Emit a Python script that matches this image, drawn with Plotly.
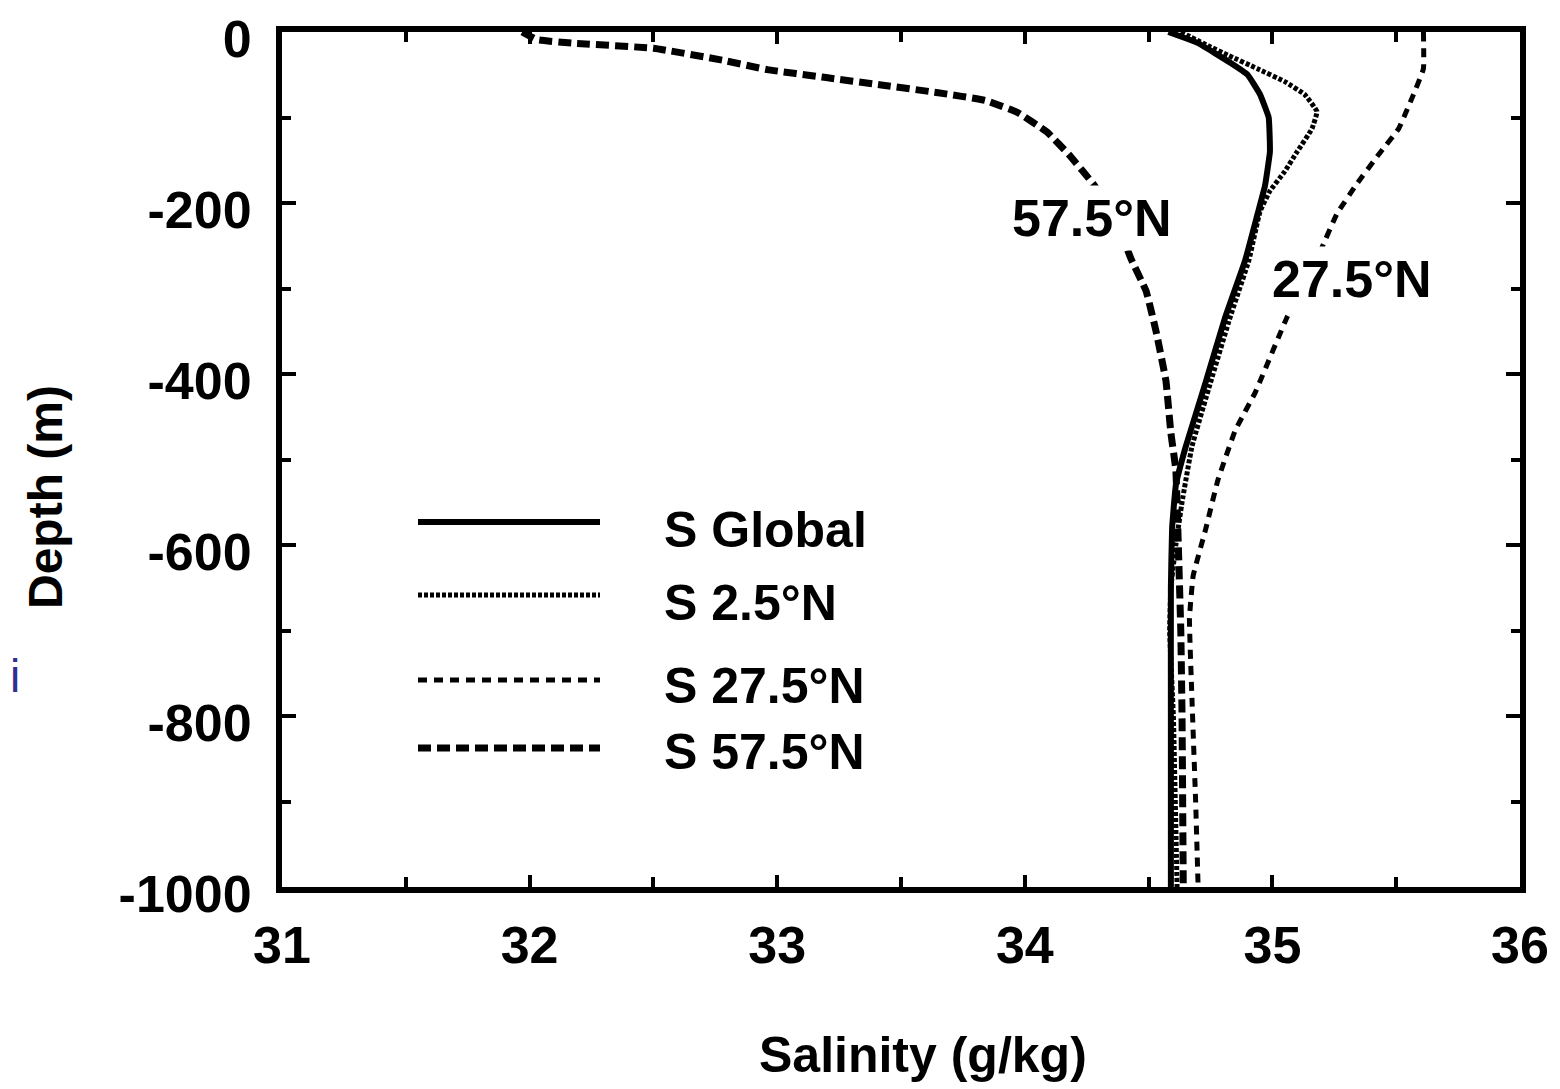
import plotly.graph_objects as go

# ---- data (depth in m, salinity in g/kg) ----
depth_global = [0, -13, -36, -50, -73, -100, -140, -180, -213, -267, -333, -410, -485, -530, -580, -650, -800, -1000]
sal_global = [34.58, 34.70, 34.83, 34.90, 34.95, 34.985, 34.99, 34.97, 34.94, 34.89, 34.81, 34.73, 34.65, 34.61, 34.595, 34.59, 34.59, 34.59]

depth_25 = [0, -16, -27, -43, -58, -73, -93, -113, -140, -163, -186, -210, -267, -333, -410, -485, -550, -600, -650, -700, -800, -1000]
sal_25 = [34.63, 34.74, 34.82, 34.94, 35.05, 35.13, 35.18, 35.16, 35.10, 35.05, 34.99, 34.95, 34.905, 34.83, 34.75, 34.675, 34.635, 34.61, 34.59, 34.585, 34.60, 34.615]

depth_275 = [0, -43, -73, -113, -143, -178, -213, -252, -333, -422, -466, -524, -582, -636, -686, -779, -900, -1000]
sal_275 = [35.61, 35.61, 35.57, 35.51, 35.43, 35.34, 35.26, 35.20, 35.06, 34.93, 34.85, 34.78, 34.73, 34.68, 34.665, 34.675, 34.69, 34.70]

depth_575 = [0, -9, -13, -19, -33, -44, -53, -62, -71, -80, -94, -117, -144, -179, -215, -266, -303, -350, -408, -469, -512, -600, -700, -800, -1000]
sal_575 = [31.97, 32.03, 32.17, 32.50, 32.78, 32.96, 33.19, 33.42, 33.65, 33.84, 33.97, 34.09, 34.18, 34.28, 34.36, 34.43, 34.49, 34.53, 34.57, 34.59, 34.61, 34.62, 34.63, 34.635, 34.64]

series_names = ["S Global", "S 2.5°N", "S 27.5°N", "S 57.5°N"]
x_ticks = [31, 32, 33, 34, 35, 36]
y_ticks = [0, -200, -400, -600, -800, -1000]

# ---- styles ----
styles = [
    dict(width=6, dash="solid"),
    dict(width=5, dash="4px,2px"),
    dict(width=5, dash="9px,7px"),
    dict(width=7, dash="13px,6px"),
]
data_sets = [(sal_global, depth_global), (sal_25, depth_25), (sal_275, depth_275), (sal_575, depth_575)]

FONT = "Liberation Sans, Arial, sans-serif"

fig = go.Figure()
for (xs, ys), name, st in zip(data_sets, series_names, styles):
    fig.add_trace(go.Scatter(x=xs, y=ys, mode="lines", name=name,
                             line=dict(color="black", width=st["width"], dash=st["dash"], shape="spline", smoothing=0.3),
                             showlegend=False))

# curve labels (white box hides the line beneath, as in the original)
fig.add_annotation(x=34.27, y=-218, xref="x", yref="y", text="<b>57.5°N</b>", showarrow=False,
                   font=dict(family=FONT, size=52, color="black"), bgcolor="white", borderpad=3)
fig.add_annotation(x=35.32, y=-289, xref="x", yref="y", text="<b>27.5°N</b>", showarrow=False,
                   font=dict(family=FONT, size=52, color="black"), bgcolor="white", borderpad=3)

# page body has an 8px margin; figure sized to reach the window edges
OFF = 8
W, H = 1552, 1081
L, R, T, B = 274, 40, 24, 202
pw, ph = W - L - R, H - T - B
def px(x):  # screen pixel -> paper x
    return (x - OFF - L) / pw
def py(y):  # screen pixel -> paper y
    return (OFF + H - B - y) / ph

leg_line_y = [522, 595, 680, 748]
leg_text_y = [530, 603, 686, 752]
for name, st, ly, ty in zip(series_names, styles, leg_line_y, leg_text_y):
    fig.add_shape(type="line", xref="paper", yref="paper", x0=px(418), x1=px(600), y0=py(ly), y1=py(ly),
                  line=dict(color="black", width=st["width"], dash=st["dash"]))
    fig.add_annotation(xref="paper", yref="paper", x=px(662), y=py(ty), xanchor="left", yanchor="middle",
                       text="<b>" + name + "</b>", showarrow=False,
                       font=dict(family=FONT, size=50, color="black"))

# axis titles
fig.add_annotation(xref="paper", yref="paper", x=px(923), y=py(1055), text="<b>Salinity (g/kg)</b>",
                   showarrow=False, xanchor="center", yanchor="middle",
                   font=dict(family=FONT, size=50, color="black"))
fig.add_annotation(xref="paper", yref="paper", x=px(45), y=py(497), text="<b>Depth (m)</b>", textangle=-90,
                   showarrow=False, xanchor="center", yanchor="middle",
                   font=dict(family=FONT, size=48, color="black"))
# stray blue glyph at the left edge of the original image
fig.add_annotation(xref="paper", yref="paper", x=px(8), y=py(676), text="i", xanchor="left", yanchor="middle",
                   showarrow=False, font=dict(family=FONT, size=46, color="#2e3192"))

fig.update_xaxes(range=[31, 36], tickvals=x_ticks, ticktext=["<b>%d</b>" % v for v in x_ticks],
                 showline=True, linewidth=6, linecolor="black", mirror="ticks",
                 ticks="inside", ticklen=12, tickwidth=4, tickcolor="black",
                 minor=dict(dtick=0.5, ticks="inside", ticklen=10, tickwidth=4, tickcolor="black"),
                 showgrid=False, zeroline=False, ticklabelstandoff=8, automargin=False,
                 ticklabeloverflow="allow",
                 tickfont=dict(family=FONT, size=52, color="black"))
fig.update_yaxes(range=[-1000, 0], tickvals=y_ticks, ticktext=["<b>%d</b>" % v for v in y_ticks],
                 showline=True, linewidth=6, linecolor="black", mirror="ticks",
                 ticks="inside", ticklen=14, tickwidth=4, tickcolor="black",
                 minor=dict(dtick=100, ticks="inside", ticklen=9, tickwidth=4, tickcolor="black"),
                 showgrid=False, zeroline=False, ticklabelstandoff=14, ticklabelshift=7, automargin=False,
                 ticklabeloverflow="allow",
                 tickfont=dict(family=FONT, size=52, color="black"))

fig.update_layout(width=W, height=H, margin=dict(l=L, r=R, t=T, b=B, autoexpand=False),
                  paper_bgcolor="white", plot_bgcolor="white", showlegend=False)

fig.write_html("out.html")
